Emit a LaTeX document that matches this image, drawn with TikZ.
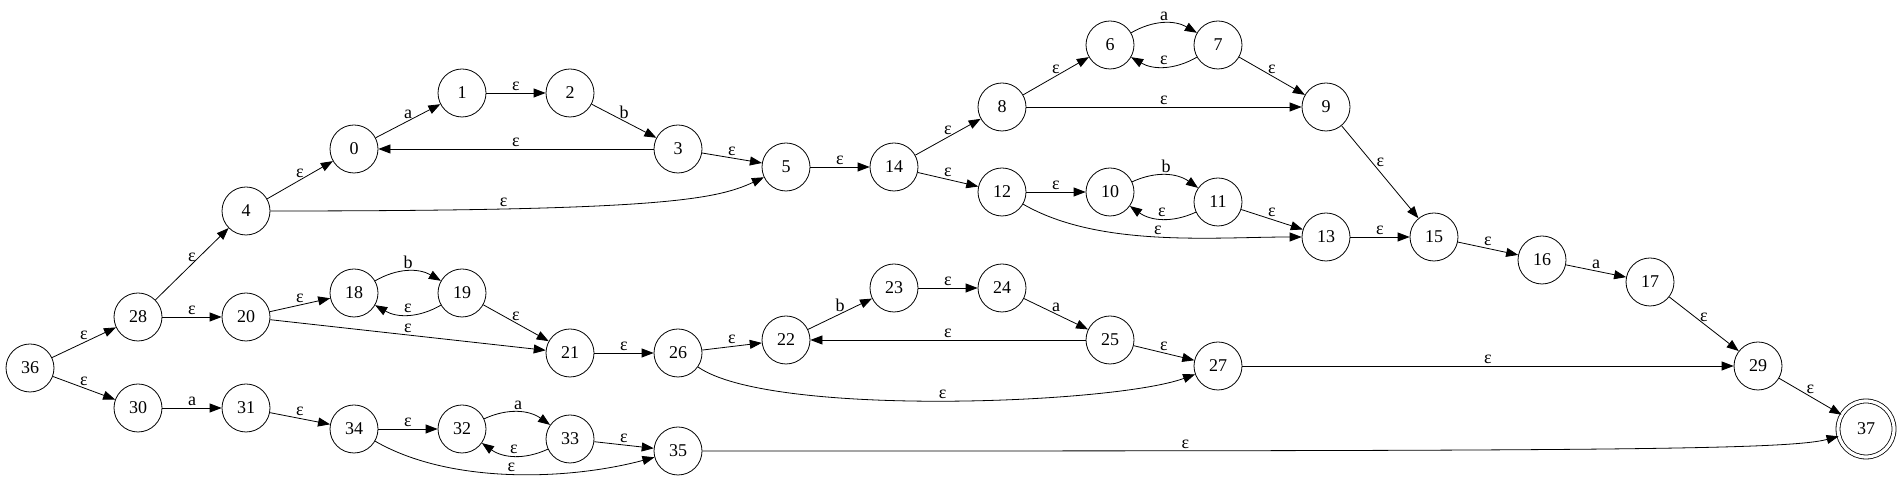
\documentclass[tikz,border=0pt]{standalone}
\usepackage{fontspec}
\setmainfont{Liberation Serif}
\usepackage{tikz}
\usetikzlibrary{arrows.meta}

\tikzset{
  state/.style={circle,draw,minimum size=24pt,inner sep=0pt},
  final/.style={state,double,double distance=1.6pt,minimum size=28pt},
  edge/.style={-{Triangle[length=6pt,width=4.5pt]}},
  lbl/.style={above,inner sep=1pt}
}

\begin{document}
\begin{tikzpicture}[x=0.5pt,y=0.5pt,font=\fontsize{9}{10}\selectfont]
  \useasboundingbox (0,0) rectangle (1900,490);
  \node[state] (s36) at (30,122) {36};
  \node[state] (s28) at (138,173) {28};
  \node[state] (s30) at (138,82) {30};
  \node[state] (s4) at (246,279) {4};
  \node[state] (s20) at (246,173) {20};
  \node[state] (s31) at (246,82) {31};
  \node[state] (s0) at (354,341) {0};
  \node[state] (s18) at (354,197) {18};
  \node[state] (s34) at (354,61) {34};
  \node[state] (s1) at (462,397) {1};
  \node[state] (s19) at (462,197) {19};
  \node[state] (s32) at (462,61) {32};
  \node[state] (s2) at (570,397) {2};
  \node[state] (s21) at (570,137) {21};
  \node[state] (s33) at (570,51) {33};
  \node[state] (s3) at (678,341) {3};
  \node[state] (s26) at (678,137) {26};
  \node[state] (s35) at (678,39) {35};
  \node[state] (s5) at (786,323) {5};
  \node[state] (s22) at (786,150) {22};
  \node[state] (s14) at (894,323) {14};
  \node[state] (s23) at (894,202) {23};
  \node[state] (s8) at (1002,383) {8};
  \node[state] (s12) at (1002,298) {12};
  \node[state] (s24) at (1002,202) {24};
  \node[state] (s6) at (1110,445) {6};
  \node[state] (s10) at (1110,298) {10};
  \node[state] (s25) at (1110,150) {25};
  \node[state] (s7) at (1218,445) {7};
  \node[state] (s11) at (1218,288) {11};
  \node[state] (s27) at (1218,124) {27};
  \node[state] (s9) at (1326,383) {9};
  \node[state] (s13) at (1326,253) {13};
  \node[state] (s15) at (1434,253) {15};
  \node[state] (s16) at (1542,230) {16};
  \node[state] (s17) at (1650,208) {17};
  \node[state] (s29) at (1758,124) {29};
  \node[final] (s37) at (1866,61) {37};

  \draw[edge] (s36) -- node[lbl] {ε} (s28);
  \draw[edge] (s36) -- node[lbl] {ε} (s30);
  \draw[edge] (s28) -- node[lbl] {ε} (s4);
  \draw[edge] (s28) -- node[lbl] {ε} (s20);
  \draw[edge] (s30) -- node[lbl] {a} (s31);
  \draw[edge] (s4) -- node[lbl] {ε} (s0);
  \draw[edge] (s4) to[out=0,in=205,out looseness=2,in looseness=0.28] node[lbl,pos=0.25] {ε} (s5);
  \draw[edge] (s0) -- node[lbl] {a} (s1);
  \draw[edge] (s1) -- node[lbl] {ε} (s2);
  \draw[edge] (s2) -- node[lbl] {b} (s3);
  \draw[edge] (s3) -- node[lbl] {ε} (s0);
  \draw[edge] (s3) -- node[lbl] {ε} (s5);
  \draw[edge] (s5) -- node[lbl] {ε} (s14);
  \draw[edge] (s14) -- node[lbl] {ε} (s8);
  \draw[edge] (s14) -- node[lbl] {ε} (s12);
  \draw[edge] (s8) -- node[lbl] {ε} (s6);
  \draw[edge] (s8) -- node[lbl] {ε} (s9);
  \draw[edge] (s6) to[bend left=30] node[lbl] {a} (s7);
  \draw[edge] (s7) to[bend left=30] node[lbl] {ε} (s6);
  \draw[edge] (s7) -- node[lbl] {ε} (s9);
  \draw[edge] (s12) -- node[lbl] {ε} (s10);
  \draw[edge] (s12) to[out=-30,in=180,looseness=0.8] node[lbl] {ε} (s13);
  \draw[edge] (s10) to[bend left=30] node[lbl] {b} (s11);
  \draw[edge] (s11) to[bend left=30] node[lbl] {ε} (s10);
  \draw[edge] (s11) -- node[lbl] {ε} (s13);
  \draw[edge] (s9) -- node[pos=0.4,right,inner sep=2pt] {ε} (s15);
  \draw[edge] (s13) -- node[lbl] {ε} (s15);
  \draw[edge] (s15) -- node[lbl] {ε} (s16);
  \draw[edge] (s16) -- node[lbl] {a} (s17);
  \draw[edge] (s17) -- node[lbl] {ε} (s29);
  \draw[edge] (s29) -- node[lbl] {ε} (s37);
  \draw[edge] (s20) -- node[lbl] {ε} (s18);
  \draw[edge] (s20) -- node[lbl] {ε} (s21);
  \draw[edge] (s18) to[bend left=30] node[lbl] {b} (s19);
  \draw[edge] (s19) to[bend left=30] node[lbl] {ε} (s18);
  \draw[edge] (s19) -- node[lbl] {ε} (s21);
  \draw[edge] (s21) -- node[lbl] {ε} (s26);
  \draw[edge] (s26) -- node[lbl] {ε} (s22);
  \draw[edge] (s26) to[out=-35,in=200,looseness=0.45] node[lbl] {ε} (s27);
  \draw[edge] (s22) -- node[lbl] {b} (s23);
  \draw[edge] (s23) -- node[lbl] {ε} (s24);
  \draw[edge] (s24) -- node[lbl] {a} (s25);
  \draw[edge] (s25) -- node[lbl] {ε} (s22);
  \draw[edge] (s25) -- node[lbl] {ε} (s27);
  \draw[edge] (s27) -- node[lbl] {ε} (s29);
  \draw[edge] (s31) -- node[lbl] {ε} (s34);
  \draw[edge] (s34) -- node[lbl] {ε} (s32);
  \draw[edge] (s34) to[out=-30,in=195,looseness=0.8] node[lbl] {ε} (s35);
  \draw[edge] (s32) to[bend left=30] node[lbl] {a} (s33);
  \draw[edge] (s33) to[bend left=30] node[lbl] {ε} (s32);
  \draw[edge] (s33) -- node[lbl] {ε} (s35);
  \draw[edge] (s35) to[out=0,in=195,out looseness=2,in looseness=0.12] node[lbl,pos=0.215] {ε} (s37);
\end{tikzpicture}
\end{document}
